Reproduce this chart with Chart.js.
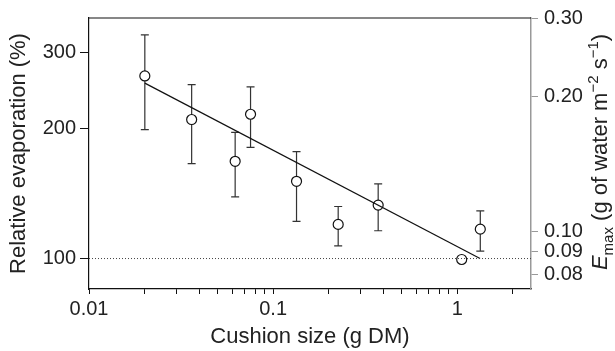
<!DOCTYPE html>
<html>
<head>
<meta charset="utf-8">
<script src="https://cdn.jsdelivr.net/npm/chart.js@4/dist/chart.umd.min.js"></script>
<style>
  html, body { margin: 0; padding: 0; background: #fff; }
  #wrap { width: 615px; height: 351px; }
</style>
</head>
<body>
<div id="wrap"><canvas id="myChart" width="615" height="351"></canvas></div>
<script>
// cushion size (g DM) and relative evaporation (%)
const cushionSize = [0.0201, 0.0361, 0.0622, 0.0754, 0.134, 0.2256, 0.372, 1.057, 1.334];
const relEvap     = [265, 210, 168, 216, 151, 120, 133, 99.5, 117];
const errHigh     = [330, 253, 196, 250, 177, 132, 149, null, 129];
const errLow      = [199, 166, 139, 181, 122, 107, 116, null, 104];

// fitted line and 100 % reference
const fitX = [0.0201, 1.33];
const fitY = [255, 100];
const refX = [0.01, 2.515];
const refY = [100, 100];

// ticks
const xTicks = [0.01, 0.02, 0.03, 0.04, 0.05, 0.06, 0.07, 0.08, 0.09,
                0.1, 0.2, 0.3, 0.4, 0.5, 0.6, 0.7, 0.8, 0.9, 1, 2];
const xLabels = ['0.01', '0.1', '1'];
const yTicks = [100, 200, 300];
const eTicks = [0.08, 0.09, 0.10, 0.20, 0.30];

const TEXT = '#222';
const FAMILY = "'Liberation Sans', Arial, Helvetica, sans-serif";
Chart.defaults.font.family = FAMILY;
Chart.defaults.color = TEXT;

const toPts = (xs, ys) => xs.map((v, i) => ({x: v, y: ys[i]}));

const errorBars = {
  id: 'errorBars',
  beforeDatasetsDraw(chart) {
    const {ctx, scales: {x, y}} = chart;
    ctx.save();
    ctx.strokeStyle = '#333';
    ctx.lineWidth = 1.2;
    cushionSize.forEach((s, i) => {
      if (errLow[i] == null) return;
      const px = x.getPixelForValue(s);
      const top = y.getPixelForValue(errHigh[i]);
      const bot = y.getPixelForValue(errLow[i]);
      ctx.beginPath();
      ctx.moveTo(px, top); ctx.lineTo(px, bot);
      ctx.moveTo(px - 4, top); ctx.lineTo(px + 4, top);
      ctx.moveTo(px - 4, bot); ctx.lineTo(px + 4, bot);
      ctx.stroke();
    });
    ctx.restore();
  }
};

// top frame line + right axis title with sub/superscripts
const extras = {
  id: 'extras',
  afterDraw(chart) {
    const {ctx, chartArea: a} = chart;
    ctx.save();
    ctx.strokeStyle = '#111';
    ctx.lineWidth = 1.2;
    ctx.beginPath();
    ctx.moveTo(a.left, a.top);
    ctx.lineTo(a.right, a.top);
    ctx.stroke();

    const big = '22px ' + FAMILY;
    const small = '15px ' + FAMILY;
    const parts = [
      {t: 'E', f: 'italic ' + big, dy: 0},
      {t: 'max', f: small, dy: 6},
      {t: ' (g of water m', f: big, dy: 0},
      {t: '\u22122', f: small, dy: -9},
      {t: ' s', f: big, dy: 0},
      {t: '\u22121', f: small, dy: -9},
      {t: ')', f: big, dy: 0}
    ];
    let total = 0;
    parts.forEach(p => { ctx.font = p.f; p.w = ctx.measureText(p.t).width; total += p.w; });
    ctx.translate(607, 152);
    ctx.rotate(-Math.PI / 2);
    ctx.fillStyle = TEXT;
    ctx.textBaseline = 'alphabetic';
    let cx = -total / 2;
    parts.forEach(p => {
      ctx.font = p.f;
      ctx.fillText(p.t, cx, p.dy);
      cx += p.w;
    });
    ctx.restore();
  }
};

const ctx = document.getElementById('myChart');
new Chart(ctx, {
  type: 'scatter',
  data: {
    datasets: [
      {
        data: toPts(refX, refY),
        showLine: true,
        borderColor: '#444',
        borderWidth: 1,
        borderDash: [1, 2],
        pointRadius: 0
      },
      {
        data: toPts(fitX, fitY),
        showLine: true,
        borderColor: '#111',
        borderWidth: 1.2,
        pointRadius: 0
      },
      {
        data: toPts(cushionSize, relEvap),
        pointRadius: 5,
        pointBorderWidth: 1.2,
        pointBorderColor: '#111',
        pointBackgroundColor: '#fff'
      }
    ]
  },
  options: {
    responsive: false,
    animation: false,
    devicePixelRatio: 1,
    layout: { padding: { top: 15, left: 0, right: 0, bottom: 0 } },
    plugins: { legend: { display: false }, tooltip: { enabled: false } },
    scales: {
      x: {
        type: 'logarithmic',
        min: 0.01,
        max: 2.515,
        afterBuildTicks: s => { s.ticks = xTicks.map(v => ({value: v})); },
        afterFit: s => { s.height = 62; },
        border: { color: '#111', width: 1.2 },
        grid: { drawOnChartArea: false, tickLength: 5, color: '#111' },
        ticks: {
          autoSkip: false,
          maxRotation: 0,
          padding: 3,
          font: { size: 20 },
          callback: v => {
            const lab = xLabels.find(l => Math.abs(parseFloat(l) - v) < 1e-9);
            return lab || '';
          }
        },
        title: {
          display: true,
          text: 'Cushion size (g DM)',
          font: { size: 22 },
          padding: { top: 0, bottom: 1 }
        }
      },
      y: {
        type: 'logarithmic',
        position: 'left',
        min: 85,
        max: 361,
        afterBuildTicks: s => { s.ticks = yTicks.map(v => ({value: v})); },
        afterFit: s => { s.width = 89; },
        border: { color: '#111', width: 1.2 },
        grid: { drawOnChartArea: false, tickLength: 9, color: '#111' },
        ticks: {
          padding: 4,
          font: { size: 20 },
          callback: v => String(v)
        },
        title: {
          display: true,
          text: 'Relative evaporation (%)',
          font: { size: 22 },
          padding: { top: 6, bottom: 0 }
        }
      },
      y2: {
        type: 'logarithmic',
        position: 'right',
        min: 0.0742,
        max: 0.30,
        afterBuildTicks: s => { s.ticks = eTicks.map(v => ({value: v})); },
        afterFit: s => { s.width = 84; },
        border: { color: '#999', width: 1.5 },
        grid: { drawOnChartArea: false, tickLength: 7, color: '#999' },
        ticks: {
          padding: 6,
          font: { size: 20 },
          callback: v => Number(v).toFixed(2)
        }
      }
    }
  },
  plugins: [errorBars, extras]
});
</script>
</body>
</html>
